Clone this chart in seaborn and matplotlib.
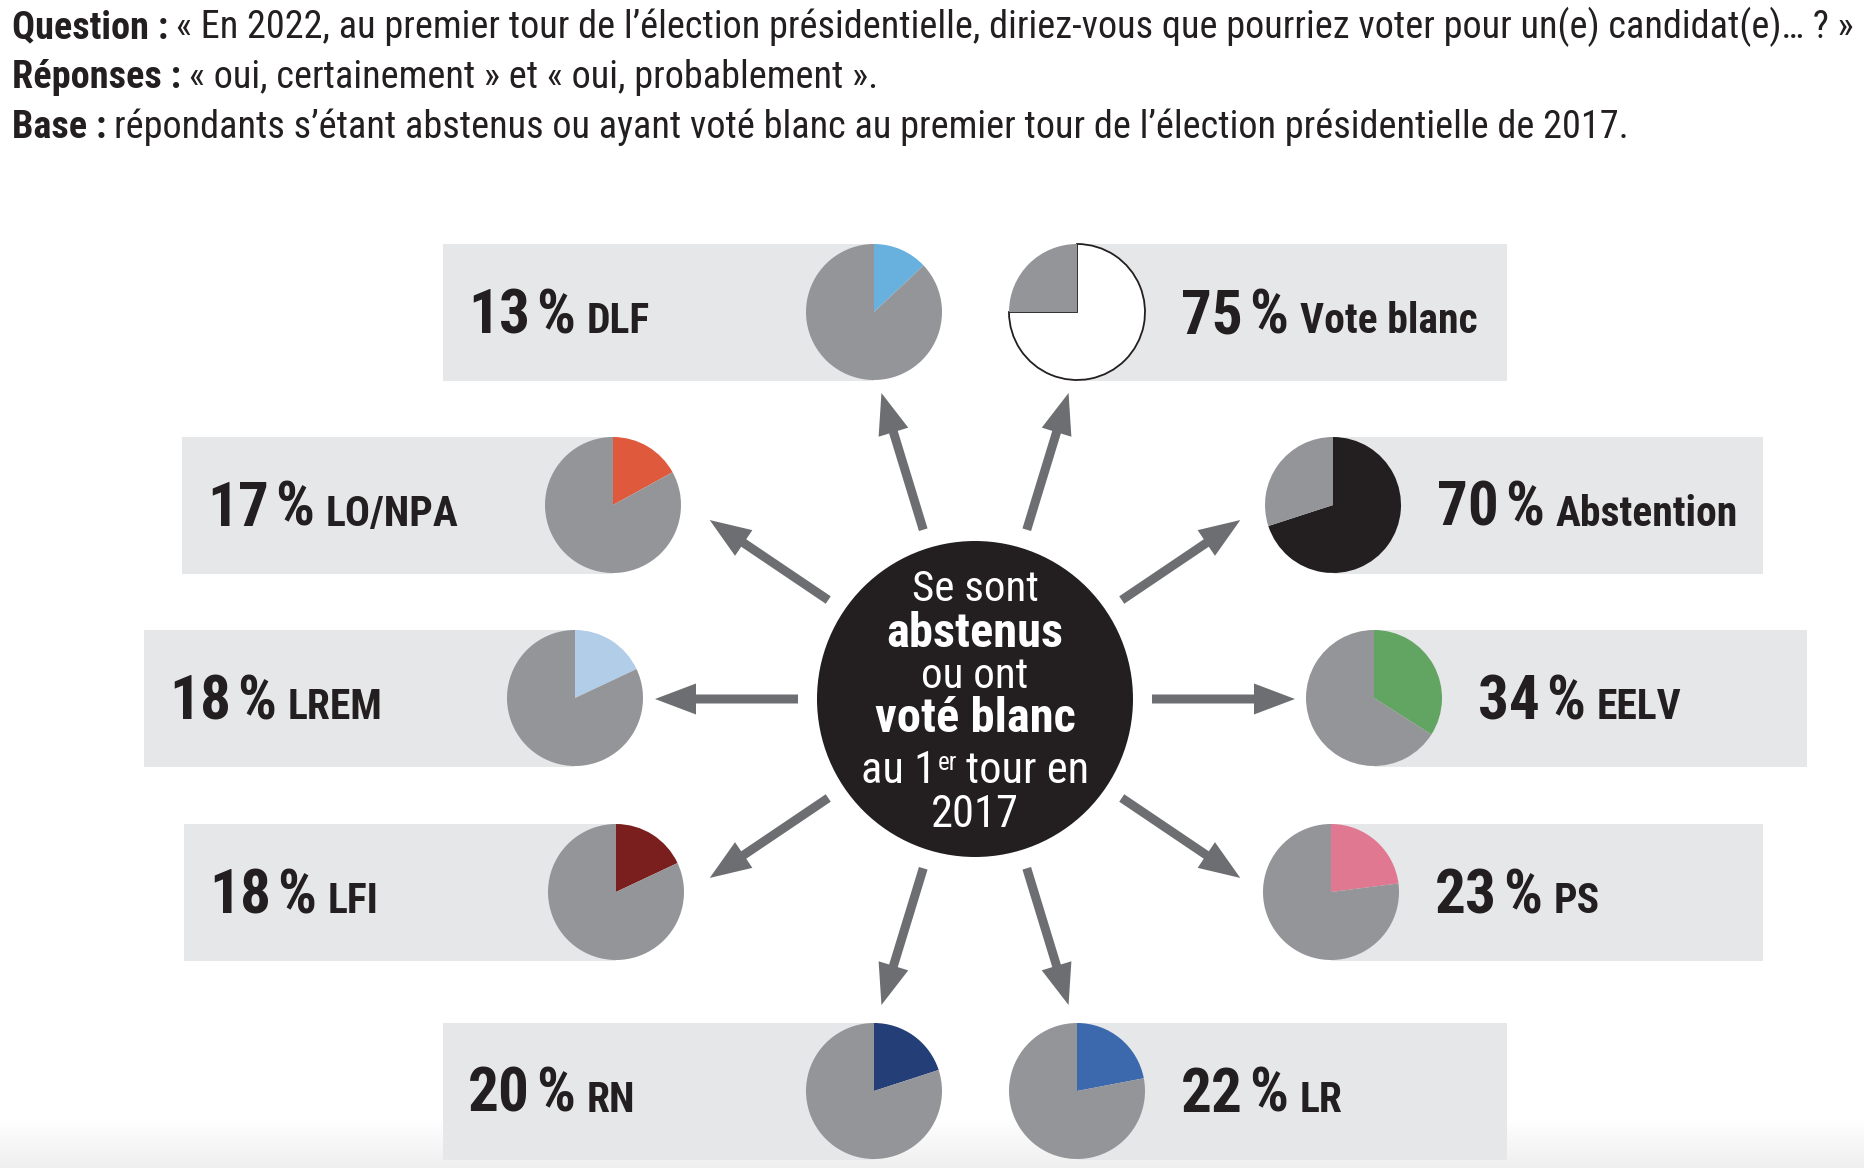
import matplotlib
matplotlib.use("Agg")
import matplotlib.pyplot as plt
import seaborn as sns
import numpy as np
from matplotlib import font_manager as fm
from matplotlib.patches import Rectangle, Circle

# ---- data ----
parties = ["DLF", "Vote blanc", "LO/NPA", "Abstention", "LREM", "EELV", "LFI", "PS", "RN", "LR"]
shares = [13, 75, 17, 70, 18, 34, 18, 23, 20, 22]
party_colors = ["#68b1df", "#ffffff", "#df5a3c", "#231f20", "#b2cde8",
                "#62a462", "#7a1f1e", "#e07892", "#243e77", "#3c68ae"]

head_labels = ["Question :", "Réponses :", "Base :"]
head_texts = ["« En 2022, au premier tour de l’élection présidentielle, diriez-vous que pourriez voter pour un(e) candidat(e)… ? »",
              "« oui, certainement » et « oui, probablement ».",
              "répondants s’étant abstenus ou ayant voté blanc au premier tour de l’élection présidentielle de 2017."]

# ---- layout (pixels, image coordinates) ----
W, H = 1864, 1168
pie_x = [874, 1077, 613, 1333, 575, 1374, 616, 1331, 874, 1077]
pie_y = [312, 312, 505, 505, 698, 698, 892, 892, 1091, 1091]
box_edge = [443, 1507, 182, 1763, 144, 1807, 184, 1763, 443, 1507]
arrow_angle = [107, 73, 146, 34, 180, 0, -146, -34, -107, -73]
hub = (975, 699)
R_PIE, BOX_H = 68, 137

GREY_PIE = "#949599"
BOX_BG = "#e6e7e8"
ARROW = "#6d6e71"
INK = "#231f20"


def pick_font(cands):
    for c in cands:
        try:
            fm.findfont(fm.FontProperties(family=c), fallback_to_default=False)
            return c
        except Exception:
            pass
    return "DejaVu Sans"


sns.set_theme(style="white")
FONT = pick_font(["Liberation Sans Narrow", "Roboto Condensed", "DejaVu Sans"])
plt.rcParams["font.family"] = [FONT, "DejaVu Sans"]

fig = plt.figure(figsize=(W / 100, H / 100), dpi=100)
ax = fig.add_axes([0, 0, 1, 1])
renderer = fig.canvas.get_renderer()


def chain(parts, x, y, align="left"):
    # parts: (text, fontsize, weight, dy, gap_before, color)
    texts, widths = [], []
    for s, size, weight, dy, gap, col in parts:
        t = ax.text(0, y + dy, s, fontsize=size, fontweight=weight, color=col,
                    ha="left", va="baseline", zorder=6)
        texts.append(t)
        widths.append(t.get_window_extent(renderer=renderer).width)
    total = sum(widths) + sum(p[4] for p in parts)
    if align == "center":
        x = x - total / 2
    for t, w, p in zip(texts, widths, parts):
        x += p[4]
        t.set_x(x)
        x += w
    return texts


# header
for i, (lab, txt) in enumerate(zip(head_labels, head_texts)):
    chain([(lab, 27.5, "bold", 0, 0, INK), (txt, 27.5, "normal", 0, 8, INK)], 12, 38 + 50 * i)

# boxes, pies, labels
for name, v, col, px, py, edge in zip(parties, shares, party_colors, pie_x, pie_y, box_edge):
    left = edge < px
    ax.add_patch(Rectangle((min(edge, px), py - BOX_H / 2), abs(edge - px), BOX_H,
                           facecolor=BOX_BG, edgecolor="none", zorder=1))
    wedges, _ = ax.pie([v, 100 - v], colors=[col, GREY_PIE], startangle=-90, counterclock=True,
                       center=(px, py), radius=R_PIE, frame=False,
                       wedgeprops=dict(linewidth=0, zorder=3))
    if col == "#ffffff":
        wedges[0].set_edgecolor(INK)
        wedges[0].set_linewidth(1.3)
    tx = edge + 25 if left else px + 104
    chain([(str(v), 44, "bold", 0, 0, INK), ("%", 44, "bold", 0, 6, INK),
           (name, 30, "bold", 0, 12, INK)], tx, py + 21)

# arrows from the hub
for a in arrow_angle:
    ux, uy = np.cos(np.radians(a)), -np.sin(np.radians(a))
    x0, y0 = hub[0] + 177 * ux, hub[1] + 177 * uy
    ax.arrow(x0, y0, 143 * ux, 143 * uy, width=9, head_width=31, head_length=41,
             length_includes_head=True, color=ARROW, linewidth=0, zorder=2)

# central disc
ax.add_patch(Circle(hub, 158, facecolor=INK, edgecolor="none", zorder=4))
W_ = "white"
chain([("Se sont", 31, "normal", 0, 0, W_)], hub[0], 601, "center")
chain([("abstenus", 35, "bold", 0, 0, W_)], hub[0], 647, "center")
chain([("ou ont", 31, "normal", 0, 0, W_)], hub[0], 688, "center")
chain([("voté blanc", 35, "bold", 0, 0, W_)], hub[0], 732, "center")
chain([("au 1", 32, "normal", 0, 0, W_), ("er", 18, "normal", -13, 1, W_),
       ("tour en", 32, "normal", 0, 9, W_)], hub[0], 783, "center")
chain([("2017", 32, "normal", 0, 0, W_)], hub[0], 827, "center")

# faint fade at the bottom edge
grad = np.linspace(0, 1, 50).reshape(-1, 1)
ax.imshow(grad, extent=[0, W, H, H - 50], cmap=matplotlib.colors.LinearSegmentedColormap.from_list(
    "fade", ["#ffffff", "#efefef"]), aspect="auto", zorder=0)

ax.set_xlim(0, W)
ax.set_ylim(H, 0)
ax.set_aspect("auto")
ax.set_axis_off()
fig.savefig("out.png", dpi=100, facecolor="white")
